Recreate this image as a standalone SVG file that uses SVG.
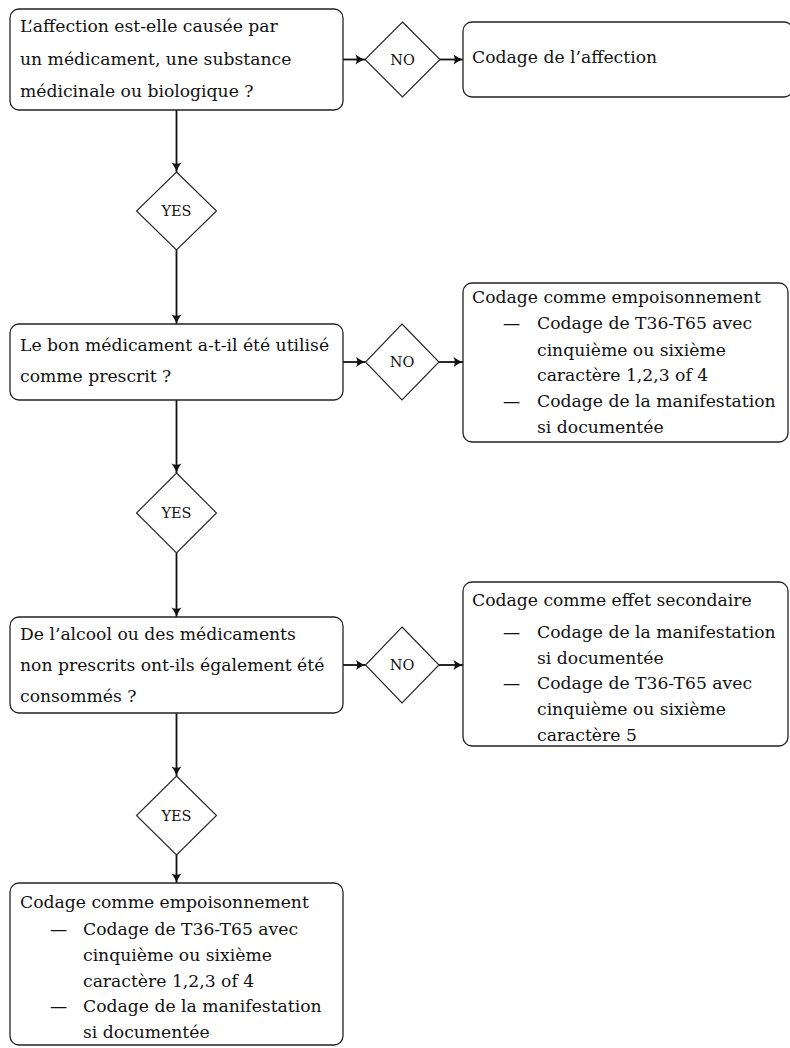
<svg xmlns="http://www.w3.org/2000/svg" width="790" height="1048" viewBox="0 0 790 1048">
<style>
  .box { fill: #fff; stroke: #222; stroke-width: 1.3; }
  .dia { fill: #fff; stroke: #222; stroke-width: 1.1; }
  .t { font-family: "DejaVu Serif", "Liberation Serif", serif; font-size: 17.2px; fill: #111; }
  .d { font-family: "DejaVu Serif", "Liberation Serif", serif; font-size: 14.5px; fill: #111; text-anchor: middle; }
  .c { fill: none; stroke: #111; stroke-width: 1.8; marker-end: url(#arr); }
</style>
<defs>
  <marker id="arr" markerUnits="userSpaceOnUse" markerWidth="14" markerHeight="14" viewBox="-11 -7 12 14" refX="0" refY="0" orient="auto">
    <path d="M-9.5,-5 Q-4,-1 0,0 Q-4,1 -9.5,5 Q-7,0 -9.5,-5 Z" fill="#111"/>
  </marker>
</defs>
<rect width="790" height="1048" fill="#fff"/>

<g id="connectors">
  <line class="c" x1="176.5" y1="110" x2="176.5" y2="172"/>
  <line class="c" x1="176.5" y1="250" x2="176.5" y2="324"/>
  <line class="c" x1="176.5" y1="400" x2="176.5" y2="473"/>
  <line class="c" x1="176.5" y1="553" x2="176.5" y2="617"/>
  <line class="c" x1="176.5" y1="713" x2="176.5" y2="776"/>
  <line class="c" x1="176.5" y1="855" x2="176.5" y2="883"/>
  <line class="c" x1="343" y1="59.5" x2="365" y2="59.5"/>
  <line class="c" x1="440" y1="59.5" x2="463" y2="59.5"/>
  <line class="c" x1="343" y1="362" x2="365.5" y2="362"/>
  <line class="c" x1="439" y1="362" x2="463" y2="362"/>
  <line class="c" x1="343" y1="665" x2="365.5" y2="665"/>
  <line class="c" x1="439" y1="665" x2="463" y2="665"/>
</g>

<g id="q1">
  <rect class="box" x="10" y="9" width="333" height="101" rx="9"/>
  <text class="t" x="20" y="32">L’affection est-elle causée par</text>
  <text class="t" x="20" y="64.5">un médicament, une substance</text>
  <text class="t" x="20" y="97">médicinale ou biologique ?</text>
</g>

<g id="no1">
  <polygon class="dia" points="402.5,22 440,59.5 402.5,97 365,59.5"/>
  <text class="d" x="402.5" y="64.5">NO</text>
</g>

<g id="r1">
  <rect class="box" x="463" y="22" width="330" height="75" rx="9"/>
  <text class="t" x="472" y="63">Codage de l’affection</text>
</g>

<g id="yes1">
  <polygon class="dia" points="176.5,172 216.5,211 176.5,250 136.5,211"/>
  <text class="d" x="176.5" y="216">YES</text>
</g>

<g id="q2">
  <rect class="box" x="10" y="324" width="333" height="76" rx="9"/>
  <text class="t" x="20" y="351">Le bon médicament a-t-il été utilisé</text>
  <text class="t" x="20" y="382">comme prescrit ?</text>
</g>

<g id="no2">
  <polygon class="dia" points="402,324 439,362 402,400 365.5,362"/>
  <text class="d" x="402" y="367">NO</text>
</g>

<g id="r2">
  <rect class="box" x="463" y="283" width="325" height="159" rx="9"/>
  <text class="t" x="472" y="303">Codage comme empoisonnement</text>
  <text class="t" x="503" y="329">—</text>
  <text class="t" x="537" y="329">Codage de T36-T65 avec</text>
  <text class="t" x="537" y="355.5">cinquième ou sixième</text>
  <text class="t" x="537" y="381">caractère 1,2,3 of 4</text>
  <text class="t" x="503" y="407">—</text>
  <text class="t" x="537" y="407">Codage de la manifestation</text>
  <text class="t" x="537" y="433">si documentée</text>
</g>

<g id="yes2">
  <polygon class="dia" points="176.5,473 216.5,513 176.5,553 136.5,513"/>
  <text class="d" x="176.5" y="518">YES</text>
</g>

<g id="q3">
  <rect class="box" x="10" y="617" width="333" height="96" rx="9"/>
  <text class="t" x="20" y="640">De l’alcool ou des médicaments</text>
  <text class="t" x="20" y="670.5">non prescrits ont-ils également été</text>
  <text class="t" x="20" y="701.5">consommés ?</text>
</g>

<g id="no3">
  <polygon class="dia" points="402,627 439,665 402,703 365.5,665"/>
  <text class="d" x="402" y="670">NO</text>
</g>

<g id="r3">
  <rect class="box" x="463" y="582" width="325" height="164" rx="9"/>
  <text class="t" x="472" y="606">Codage comme effet secondaire</text>
  <text class="t" x="503" y="638">—</text>
  <text class="t" x="537" y="638">Codage de la manifestation</text>
  <text class="t" x="537" y="663.5">si documentée</text>
  <text class="t" x="503" y="689">—</text>
  <text class="t" x="537" y="689">Codage de T36-T65 avec</text>
  <text class="t" x="537" y="715">cinquième ou sixième</text>
  <text class="t" x="537" y="741">caractère 5</text>
</g>

<g id="yes3">
  <polygon class="dia" points="176.5,776 216.5,815.5 176.5,855 136.5,815.5"/>
  <text class="d" x="176.5" y="820.5">YES</text>
</g>

<g id="r4">
  <rect class="box" x="10" y="883" width="333" height="162" rx="9"/>
  <text class="t" x="20" y="908">Codage comme empoisonnement</text>
  <text class="t" x="50" y="935">—</text>
  <text class="t" x="83" y="935">Codage de T36-T65 avec</text>
  <text class="t" x="83" y="961">cinquième ou sixième</text>
  <text class="t" x="83" y="987">caractère 1,2,3 of 4</text>
  <text class="t" x="50" y="1012">—</text>
  <text class="t" x="83" y="1012">Codage de la manifestation</text>
  <text class="t" x="83" y="1038">si documentée</text>
</g>
</svg>
